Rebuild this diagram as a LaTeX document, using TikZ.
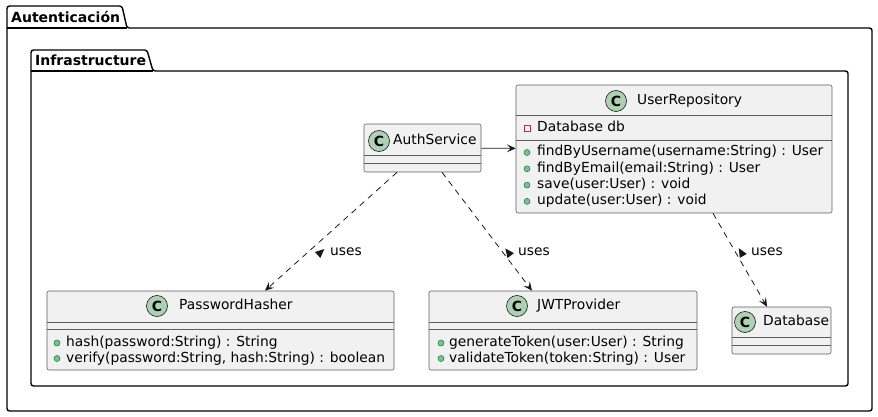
\documentclass[tikz,border=0pt]{standalone}
\usepackage{fontspec}
\setmainfont{DejaVu Sans}
\usetikzlibrary{arrows.meta}
\definecolor{umlline}{HTML}{181818}
\definecolor{umlfill}{HTML}{F1F1F1}
\definecolor{badgefill}{HTML}{ADD1B2}
\definecolor{pubfill}{HTML}{84BE84}
\definecolor{pubdraw}{HTML}{038048}
\definecolor{privdraw}{HTML}{C82930}
\tikzset{
	classbox/.style={draw=umlline!70, fill=umlfill, line width=0.6pt, rounded corners=2pt, inner sep=0pt},
	divider/.style={draw=umlline!70, line width=0.6pt},
	badge/.style={shape=circle, draw=umlline, fill=badgefill, line width=0.6pt, minimum size=21pt, inner sep=0pt, font=\bfseries\fontsize{14}{14}\selectfont},
	member/.style={anchor=west, inner sep=0pt, text height=10pt, text depth=3pt, font=\fontsize{13.8}{16}\selectfont},
	pubdot/.style={shape=circle, draw=pubdraw, fill=pubfill, line width=0.5pt, minimum size=6pt, inner sep=0pt},
	privsq/.style={shape=rectangle, draw=privdraw, line width=0.6pt, minimum size=6pt, inner sep=0pt},
	pkgline/.style={draw=black, line width=1.4pt},
	pkgtitle/.style={inner sep=0pt, font=\bfseries\fontsize{14}{16}\selectfont},
	assoc/.style={draw=umlline, line width=0.8pt, -{Stealth[length=9pt,width=8pt,inset=4pt]}},
	dep/.style={assoc, dash pattern=on 6pt off 5pt},
	usestip/.style={fill=umlline}
}

\begin{document}
\begin{tikzpicture}[x=1pt, y=-1pt]
	\useasboundingbox (0,0) rectangle (878,417);
	% packages
	\draw[pkgline, rounded corners=2.5pt] (7,28) -- (7,6) -- (122,6) -- (127,28) -- (872,28) -- (872,411) -- (7,411) -- cycle;
	\draw[pkgline] (7,28) -- (127,28);
	\node[pkgtitle, anchor=west] (pkgauth) at (11,17) {Autenticación};
	\draw[pkgline, rounded corners=2.5pt] (31,71) -- (31,50) -- (147,50) -- (153,71) -- (848,71) -- (848,386) -- (31,386) -- cycle;
	\draw[pkgline] (31,71) -- (153,71);
	\node[pkgtitle, anchor=west] (pkginfra) at (35,60) {Infrastructure};

	% AuthService
	\node[classbox, minimum width=117pt, minimum height=48pt] (auth) at (422.5,148) {};
	\node[badge] (authc) at (379,141) {C};
	\node[member] (authn) at (393,141) {AuthService};
	\draw[divider] ([yshift=-32pt]auth.north west) -- ([yshift=-32pt]auth.north east);
	\draw[divider] ([yshift=-40pt]auth.north west) -- ([yshift=-40pt]auth.north east);

	% UserRepository
	\node[classbox, minimum width=316pt, minimum height=128pt] (repo) at (674,149) {};
	\node[badge] (repoc) at (616,101) {C};
	\node[member] (repon) at (637,101) {UserRepository};
	\draw[divider] ([yshift=-31pt]repo.north west) -- ([yshift=-31pt]repo.north east);
	\node[privsq] (repoa1s) at (527,128) {};
	\node[member] (repoa1) at (537,128) {Database db};
	\draw[divider] ([yshift=-56pt]repo.north west) -- ([yshift=-56pt]repo.north east);
	\node[pubdot] (repom1d) at (527,152.5) {};
	\node[member] (repom1) at (537,152.5) {findByUsername(username:String) : User};
	\node[pubdot] (repom2d) at (527,168.8) {};
	\node[member] (repom2) at (537,168.8) {findByEmail(email:String) : User};
	\node[pubdot] (repom3d) at (527,185.1) {};
	\node[member] (repom3) at (537,185.1) {save(user:User) : void};
	\node[pubdot] (repom4d) at (527,201.4) {};
	\node[member] (repom4) at (537,201.4) {update(user:User) : void};

	% PasswordHasher
	\node[classbox, minimum width=347pt, minimum height=79pt] (hasher) at (220.5,330.5) {};
	\node[badge] (hasherc) at (157,306) {C};
	\node[member] (hashern) at (179,306) {PasswordHasher};
	\draw[divider] ([yshift=-32pt]hasher.north west) -- ([yshift=-32pt]hasher.north east);
	\draw[divider] ([yshift=-39pt]hasher.north west) -- ([yshift=-39pt]hasher.north east);
	\node[pubdot] (hasherm1d) at (57,343) {};
	\node[member] (hasherm1) at (66,343) {hash(password:String) : String};
	\node[pubdot] (hasherm2d) at (57,358.5) {};
	\node[member] (hasherm2) at (66,358.5) {verify(password:String, hash:String) : boolean};

	% JWTProvider
	\node[classbox, minimum width=268pt, minimum height=79pt] (jwt) at (563,330.5) {};
	\node[badge] (jwtc) at (517,306) {C};
	\node[member] (jwtn) at (537,306) {JWTProvider};
	\draw[divider] ([yshift=-32pt]jwt.north west) -- ([yshift=-32pt]jwt.north east);
	\draw[divider] ([yshift=-39pt]jwt.north west) -- ([yshift=-39pt]jwt.north east);
	\node[pubdot] (jwtm1d) at (441,343) {};
	\node[member] (jwtm1) at (449,343) {generateToken(user:User) : String};
	\node[pubdot] (jwtm2d) at (441,358.5) {};
	\node[member] (jwtm2) at (449,358.5) {validateToken(token:String) : User};

	% Database
	\node[classbox, minimum width=99pt, minimum height=47pt] (db) at (781.5,330.5) {};
	\node[badge] (dbc) at (745,322) {C};
	\node[member] (dbn) at (763,322) {Database};
	\draw[divider] ([yshift=-31pt]db.north west) -- ([yshift=-31pt]db.north east);
	\draw[divider] ([yshift=-39pt]db.north west) -- ([yshift=-39pt]db.north east);

	% links
	\draw[assoc] (auth) -- (repo);
	\draw[dep] ([xshift=-25.5pt]auth.south) -- ([xshift=44.5pt]hasher.north);
	\draw[dep] ([xshift=19.5pt]auth.south) -- ([xshift=-31pt]jwt.north);
	\draw[dep] ([xshift=39pt]repo.south) -- ([xshift=-14.5pt]db.north);

	% link labels
	\fill[usestip, shift={(321,252)}, rotate=42] (4.5,0) -- (-4.5,4) -- (-4.5,-4) -- cycle;
	\node[member] (uses1) at (330,252) {uses};
	\fill[usestip, shift={(508,252)}, rotate=127] (4.5,0) -- (-4.5,4) -- (-4.5,-4) -- cycle;
	\node[member] (uses2) at (518,252) {uses};
	\fill[usestip, shift={(741,252)}, rotate=120] (4.5,0) -- (-4.5,4) -- (-4.5,-4) -- cycle;
	\node[member] (uses3) at (751,252) {uses};
\end{tikzpicture}
\end{document}
